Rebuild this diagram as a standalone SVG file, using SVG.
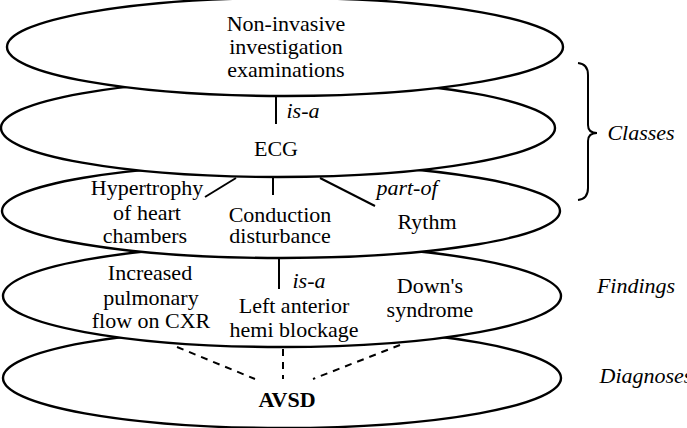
<svg xmlns="http://www.w3.org/2000/svg" width="687" height="428" viewBox="0 0 687 428">
<style>
.layer{fill:#fff;stroke:#000;stroke-width:2.4}
text{font-family:"Liberation Serif","Times New Roman",serif;font-size:22px;fill:#000;text-anchor:middle}
.it{font-style:italic}
.bd{font-weight:bold}
.ln{stroke:#000;stroke-width:2;fill:none}
.dash{stroke:#000;stroke-width:2;fill:none;stroke-dasharray:7,6}
</style>
<rect width="687" height="428" fill="#fff"/>
<g id="layer-diagnoses"><ellipse class="layer" cx="282" cy="378" rx="279" ry="50"/></g>
<g id="layer-findings"><ellipse class="layer" cx="282" cy="296" rx="279" ry="51"/></g>
<g id="layer-subclasses"><ellipse class="layer" cx="281" cy="211" rx="279" ry="47"/></g>
<g id="layer-ecg"><ellipse class="layer" cx="278" cy="128" rx="277" ry="49"/></g>
<g id="layer-top"><ellipse class="layer" cx="285" cy="47" rx="278" ry="49"/></g>

<g id="node-noninvasive"><text x="286" y="31">Non-invasive</text><text x="286" y="54">investigation</text><text x="286" y="77">examinations</text></g>
<g id="node-ecg"><text x="276" y="156">ECG</text></g>
<g id="node-hypertrophy"><text x="147" y="195">Hypertrophy</text><text x="147" y="220">of heart</text><text x="145" y="243">chambers</text></g>
<g id="node-conduction"><text x="280" y="222">Conduction</text><text x="280" y="243">disturbance</text></g>
<g id="node-rythm"><text x="427" y="229">Rythm</text></g>
<g id="node-increased"><text x="150" y="280">Increased</text><text x="151" y="305">pulmonary</text><text x="151" y="328">flow on CXR</text></g>
<g id="node-lahb"><text x="294" y="313">Left anterior</text><text x="294" y="337">hemi blockage</text></g>
<g id="node-downs"><text x="430" y="293">Down's</text><text x="430" y="317">syndrome</text></g>
<g id="node-avsd"><text class="bd" x="287" y="407" font-size="21">AVSD</text></g>

<g id="connectors">
<line class="ln" x1="276" y1="97" x2="276" y2="124"/>
<line class="ln" x1="236" y1="178" x2="205" y2="197"/>
<line class="ln" x1="273" y1="177" x2="273" y2="195"/>
<line class="ln" x1="320" y1="178" x2="375" y2="206"/>
<line class="ln" x1="279" y1="259" x2="279" y2="289"/>
<line class="dash" x1="177" y1="347" x2="255" y2="379"/>
<line class="dash" x1="283" y1="349" x2="283" y2="379"/>
<line class="dash" x1="400" y1="345" x2="313" y2="379"/>
<text class="it" x="303" y="118">is-a</text>
<text class="it" x="407" y="195">part-of</text>
<text class="it" x="309" y="288">is-a</text>
</g>

<g id="annotations">
<path class="ln" d="M578,63 Q588,64 588,75 L588,125 Q588,133 597,133 Q588,133 588,141 L588,188 Q588,199 578,200"/>
<text class="it" x="641" y="140">Classes</text>
<text class="it" x="636" y="293">Findings</text>
<text class="it" x="646" y="383">Diagnoses</text>
</g>
</svg>
